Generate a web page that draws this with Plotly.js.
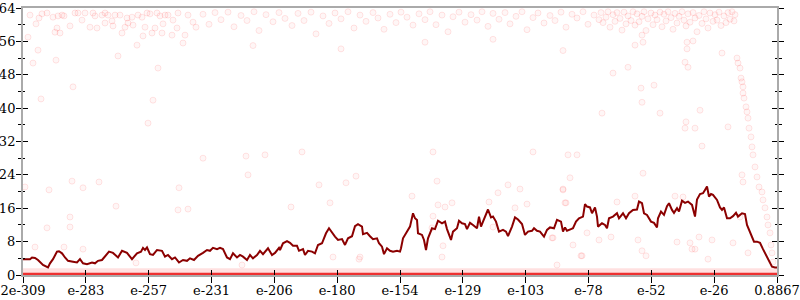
<!DOCTYPE html>
<html>
<head>
<meta charset="utf-8">
<script src="https://cdn.plot.ly/plotly-3.0.1.min.js"></script>
<style>html,body{margin:0;padding:0;background:#fff;}#chart{width:800px;height:300px;}</style>
</head>
<body>
<div id="chart"></div>
<script>
// x: position along the log-scaled axis (0 = 2e-309, 754 = 0.8867)
const xMax = 754;
const tickLabels = ["2e-309","e-283","e-257","e-231","e-206","e-180","e-154","e-129","e-103","e-78","e-52","e-26","0.8867"];
const yTicks = [0,8,16,24,32,40,48,56,64];

// smoothed running line
const lineX = [0,7,9,12,15,20,25,27,30,34,36,39,42,45,50,54,57,60,64,69,72,75,79,82,86,90,95,99,104,109,114,118,120,122,124,127,
130,134,139,142,145,149,152,156,160,164,167,171,175,180,184,187,190,194,197,200,204,207,210,214,217,220,224,227,230,234,237,240,245,249,252,256,
257,260,264,267,270,274,276,280,282,285,289,292,295,299,303,306,309,312,315,319,322,325,329,332,335,339,340,344,347,350,354,356,359,361,364,367,370,374,377,378,380,384,387,
390,392,394,395,399,401,403,405,409,412,415,419,422,424,428,430,434,436,439,442,444,447,450,454,456,458,460,463,465,468,470,473,476,480,483,485,489,492,495,499,502,505,509,511,514,517,
521,524,527,531,534,538,540,542,544,548,550,553,556,560,562,564,567,569,572,574,575,579,582,584,586,590,594,596,600,603,606,610,614,616,619,621,624,628,631,634,635,638,641,644,646,
649,651,654,656,659,662,665,669,672,674,677,680,682,684,686,688,690,694,697,699,701,704,707,710,713,715,719,722,724,728,731,734,737,740,743,745,749,752,754];
const lineY = [3.8,3.8,4.2,4.1,3.6,2.4,1.8,2.8,3.8,5.6,5.7,5.2,4.2,3.4,3.2,3.0,3.8,2.8,2.6,3.0,2.8,3.4,3.6,4.4,5.6,5.3,4.2,5.8,5.3,3.8,5.2,5.6,6.5,6.0,6.6,5.0,
4.8,6.0,5.8,4.4,4.8,3.8,4.2,3.0,3.6,3.4,4.0,3.6,4.6,5.3,6.0,5.8,6.5,6.2,6.5,6.2,4.2,3.8,5.2,4.2,4.8,4.4,3.6,4.8,4.0,4.8,5.8,5.0,6.4,4.8,5.3,6.5,
6.0,7.6,8.1,7.7,7.0,7.0,5.8,6.2,4.8,5.8,5.6,5.2,7.2,7.6,10.0,11.2,10.1,9.2,8.4,8.6,7.2,8.8,9.3,11.7,12.2,11.6,9.8,10.1,9.3,8.6,8.8,7.6,6.8,5.0,6.4,5.8,5.6,5.8,5.6,6.4,8.8,10.4,11.6,
14.8,13.6,13.2,10.0,9.6,8.4,6.0,8.8,11.2,11.0,13.0,12.4,12.8,11.0,8.4,10.4,11.2,13.0,12.4,12.2,11.0,12.5,12.0,11.2,14.0,11.6,12.8,14.4,15.7,13.8,14.0,12.8,10.4,10.8,10.4,9.3,11.6,13.8,13.3,12.2,9.6,10.4,10.6,11.2,10.6,10.4,
9.2,10.8,11.4,11.2,13.2,12.8,10.4,11.4,10.6,11.0,11.2,12.8,13.6,14.0,17.0,16.4,16.2,14.8,16.2,14.0,11.6,12.4,12.0,11.2,13.6,14.0,14.8,13.6,14.8,13.6,14.8,15.6,15.7,17.6,17.2,14.8,14.4,12.8,12.5,11.4,13.6,15.2,14.4,16.5,17.2,
15.6,14.9,16.0,15.2,17.8,17.3,17.6,16.8,14.0,18.1,19.4,19.6,20.4,21.2,18.8,19.4,19.2,18.0,16.2,15.6,16.2,13.6,13.6,14.1,14.9,14.0,14.8,14.6,12.0,9.6,8.0,8.0,7.7,6.2,4.8,3.6,2.0,1.8,1.8];

// individual samples (faint points)
const ptX = [7,5,10,13,15,16,18,19,24,30,32,33,34,35,37,39,41,47,50,52,55,59,62,67,70,72,74,79,82,82,85,89,90,92,95,97,99,102,104,105,109,110,114,115,119,120,122,124,125,127,129,130,132,134,135,137,139,140,142,145,149,150,154,155,160,162,165,170,173,
180,186,192,198,205,211,218,224,231,236,243,250,256,262,269,275,281,288,293,300,306,312,318,325,331,337,343,350,355,361,367,373,378,384,390,396,402,407,413,419,425,430,436,442,448,454,459,465,470,476,482,487,493,499,504,510,515,521,527,532,538,543,549,554,560,565,571,576,
230,318,402,470,540,
578,580,583,585,587,590,592,594,597,599,601,603,605,608,610,612,614,616,619,621,623,625,628,630,632,634,637,639,641,643,645,648,650,652,654,656,659,661,663,665,667,670,672,674,676,679,681,683,685,687,690,692,694,696,698,701,703,705,707,709,711,712,
612,619,620,605,590,618,631,619,637,664,664,670,662,665,699,677,663,662,672,705,679,579,
714,715,717,718,719,720,720,721,723,724,725,726,728,729,730,732,734,736,739,740,742,744,745,747,748,749,750,
2,12,24,26,41,47,47,49,60,60,76,93,113,155,156,165,
180,223,242,279,225,296,323,333,307,268,310,337,219,
410,510,545,554,414,485,389,475,540,415,429,466,492,543,410,420,419,409,529,559,550,497,504,422,470,336,
547,540,542,594,612,620,530,564,576,588,615,558,534,619,623,
652,660,719,720,717,654,667,676,689,669,672,685,725,710];
const ptY = [62.3,57.0,50.8,60.2,53.9,61.6,42.2,62.6,62.8,61.8,58.2,51.5,59.2,62.1,58.0,62.3,62.1,59.7,45.1,62.8,62.8,61.1,62.8,59.4,62.8,62.1,59.2,62.3,62.8,60.4,62.3,60.9,59.7,62.3,52.5,62.3,58.0,59.4,61.6,60.4,61.8,59.9,55.1,62.3,61.8,57.3,59.4,62.8,36.4,62.6,58.0,41.9,59.2,62.8,49.6,62.1,58.0,60.2,62.3,62.3,57.5,61.1,59.2,62.8,55.6,57.5,62.3,60.6,59.4,
62.5,60.1,62.9,61.2,63.0,59.5,62.2,61.0,63.1,58.6,62.4,60.7,62.9,61.5,59.8,62.7,61.0,63.0,57.8,62.1,60.3,62.8,61.4,63.1,59.2,62.3,60.8,62.9,61.6,58.9,62.5,60.5,63.0,61.8,59.9,62.6,61.2,63.1,60.0,62.3,58.3,61.9,63.0,60.6,62.4,61.1,63.1,59.6,62.7,61.3,62.9,60.2,62.0,63.1,58.8,61.7,62.8,60.4,62.2,61.0,63.0,59.4,62.5,61.6,63.1,60.1,62.3,61.2,
55.0,54.2,55.8,56.5,53.8,
62.9,60.5,61.8,63.1,59.4,62.4,60.8,62.9,61.5,58.7,63.0,60.2,62.1,61.0,63.1,59.9,62.6,60.7,62.0,63.1,58.6,61.4,62.8,60.0,62.3,61.2,63.0,59.5,62.5,60.9,63.1,61.7,58.9,62.7,60.4,62.0,63.1,61.1,59.7,62.6,60.6,62.9,61.6,58.3,62.2,60.3,63.1,61.4,59.2,62.8,60.8,62.4,61.1,63.0,59.8,62.1,60.5,62.9,61.3,63.1,60.9,62.4,
55.1,57.5,55.8,49.8,48.4,44.8,45.5,41.4,38.8,54.2,55.8,56.1,51.0,49.8,53.2,39.5,36.7,35.2,35.2,35.5,30.9,38.8,
52.0,50.8,49.6,47.2,46.3,45.1,43.6,42.4,40.3,39.1,37.6,35.2,33.1,30.7,28.8,25.9,23.5,21.1,19.9,18.0,16.1,13.9,12.0,10.1,7.2,5.3,3.1,
21.1,6.7,11.3,20.4,6.7,11.5,13.9,22.5,20.9,6.2,22.3,16.5,2.9,15.6,20.9,15.8,
28.0,28.5,28.8,29.5,24.0,21.6,22.1,23.7,17.3,16.3,4.3,4.3,2.4,
29.5,29.5,28.8,28.8,22.5,21.6,18.9,19.7,20.6,16.8,17.3,17.5,16.1,17.3,14.1,7.0,4.3,11.3,8.9,4.6,7.2,20.6,17.0,16.3,11.5,3.8,
23.3,20.4,17.3,17.5,18.9,24.4,8.9,10.1,8.4,9.1,8.4,4.6,2.4,5.8,4.6,
18.9,18.7,24.0,22.3,13.9,7.9,7.7,9.1,8.4,6.2,6.2,3.8,5.3,7.7];

// dense floor of samples at zero and just above it
const floorX = [0, xMax];
const zeroY = [0.15, 0.15];
const nearZeroY = [1.0, 1.0];

const tickVals = tickLabels.map((_, i) => i * xMax / (tickLabels.length - 1));
const font = {family: "DejaVu Serif", size: 13, color: "#000"};

const traces = [
  {type: "scatter", mode: "markers", x: ptX, y: ptY, hoverinfo: "skip",
   marker: {size: 6, color: "rgba(255,0,0,0.035)", line: {color: "rgba(255,0,0,0.1)", width: 1}}},
  {type: "scatter", mode: "lines", x: floorX, y: nearZeroY, hoverinfo: "skip",
   line: {color: "rgba(255,60,60,0.16)", width: 5}},
  {type: "scatter", mode: "lines", x: floorX, y: zeroY, hoverinfo: "skip",
   line: {color: "rgba(235,25,25,0.9)", width: 3}},
  {type: "scatter", mode: "lines", x: lineX, y: lineY, hoverinfo: "skip",
   line: {color: "#8b0000", width: 2}},
  {type: "scatter", mode: "markers", x: [], y: [], xaxis: "x2", yaxis: "y2", hoverinfo: "skip"}
];

const layout = {
  width: 800, height: 300,
  margin: {l: 23, r: 23, t: 8, b: 25, pad: 0},
  paper_bgcolor: "#fff", plot_bgcolor: "#fff",
  showlegend: false,
  font: font,
  xaxis: {range: [0, xMax], showgrid: false, zeroline: false,
          showline: true, mirror: true, linecolor: "#aaa", linewidth: 2,
          ticks: "outside", ticklen: 6, tickwidth: 1, tickcolor: "#000",
          tickmode: "array", tickvals: tickVals, ticktext: tickLabels,
          tickfont: font, layer: "below traces", ticklabelstandoff: -4},
  yaxis: {range: [0, 64], showgrid: false, zeroline: false,
          showline: true, mirror: "ticks", linecolor: "#aaa", linewidth: 2,
          ticks: "outside", ticklen: 5, tickwidth: 1, tickcolor: "#000",
          tickmode: "array", tickvals: yTicks, tickfont: font, layer: "below traces",
          ticklabelstandoff: -2,
          minor: {ticks: "outside", ticklen: 3, tickwidth: 1, tickcolor: "#000", dtick: 4, tick0: 0, showgrid: false}},
  xaxis2: {overlaying: "x", matches: "x", range: [0, xMax], showgrid: false, zeroline: false, showline: false,
           ticks: "inside", ticklen: 5, tickwidth: 1, tickcolor: "#000",
           tickmode: "array", tickvals: tickVals, showticklabels: false},
  yaxis2: {overlaying: "y", matches: "y", range: [0, 64], showgrid: false, zeroline: false, showline: false,
           mirror: "ticks", ticks: "inside", ticklen: 5, tickwidth: 1, tickcolor: "#000",
           tickmode: "array", tickvals: yTicks, showticklabels: false,
           minor: {ticks: "inside", ticklen: 2, tickwidth: 1, tickcolor: "#000", dtick: 4, tick0: 0, showgrid: false}}
};

Plotly.newPlot("chart", traces, layout, {staticPlot: true, displayModeBar: false});
</script>
</body>
</html>
